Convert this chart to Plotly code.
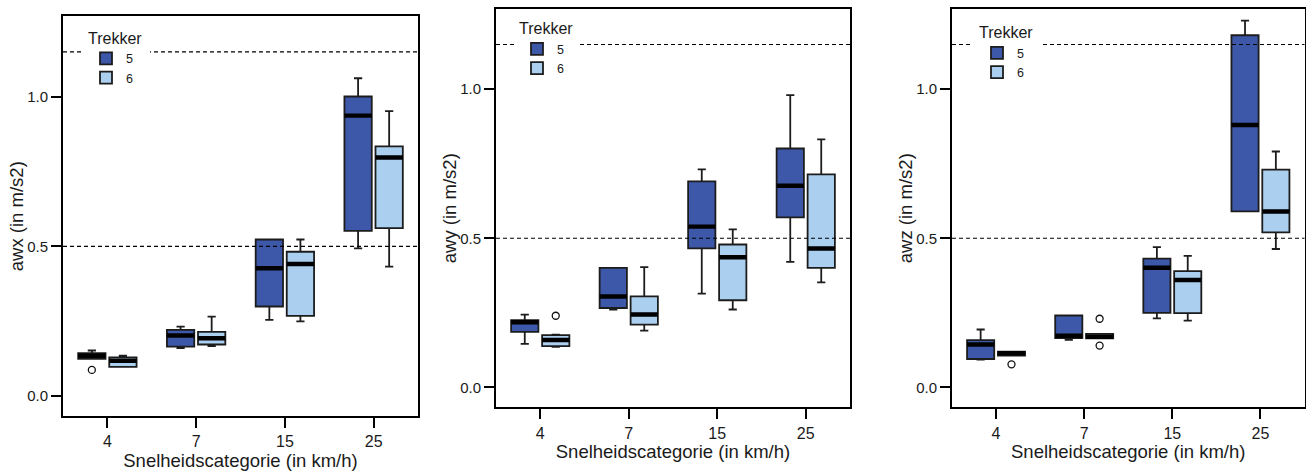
import plotly.graph_objects as go

# ---------------- data ----------------
categories = ['4', '7', '15', '25']
trekkers = ['5', '6']
thresholds = [0.5, 1.15]

# awx
awx_t5_lower = [0.124, 0.160, 0.254, 0.493]
awx_t5_q1 = [0.124, 0.165, 0.299, 0.552]
awx_t5_median = [0.134, 0.202, 0.427, 0.937]
awx_t5_q3 = [0.143, 0.221, 0.523, 1.001]
awx_t5_upper = [0.152, 0.232, 0.523, 1.062]
awx_t5_outliers = [[0.087], [], [], []]

awx_t6_lower = [0.097, 0.167, 0.249, 0.432]
awx_t6_q1 = [0.097, 0.172, 0.268, 0.561]
awx_t6_median = [0.118, 0.193, 0.441, 0.797]
awx_t6_q3 = [0.129, 0.214, 0.482, 0.834]
awx_t6_upper = [0.135, 0.265, 0.523, 0.952]
awx_t6_outliers = [[], [], [], []]

# awy
awy_t5_lower = [0.146, 0.261, 0.314, 0.421]
awy_t5_q1 = [0.186, 0.266, 0.466, 0.570]
awy_t5_median = [0.218, 0.305, 0.539, 0.676]
awy_t5_q3 = [0.225, 0.401, 0.691, 0.801]
awy_t5_upper = [0.244, 0.401, 0.731, 0.980]
awy_t5_outliers = [[], [], [], []]

awy_t6_lower = [0.136, 0.190, 0.261, 0.352]
awy_t6_q1 = [0.138, 0.210, 0.292, 0.401]
awy_t6_median = [0.159, 0.244, 0.436, 0.466]
awy_t6_q3 = [0.175, 0.305, 0.479, 0.714]
awy_t6_upper = [0.177, 0.403, 0.530, 0.832]
awy_t6_outliers = [[0.240], [], [], []]

# awz
awz_t5_lower = [0.093, 0.159, 0.231, 0.590]
awz_t5_q1 = [0.095, 0.165, 0.250, 0.590]
awz_t5_median = [0.144, 0.173, 0.401, 0.880]
awz_t5_q3 = [0.158, 0.241, 0.432, 1.181]
awz_t5_upper = [0.194, 0.241, 0.470, 1.230]
awz_t5_outliers = [[], [], [], []]

awz_t6_lower = [0.106, 0.164, 0.224, 0.464]
awz_t6_q1 = [0.106, 0.164, 0.249, 0.520]
awz_t6_median = [0.114, 0.170, 0.360, 0.590]
awz_t6_q3 = [0.120, 0.179, 0.390, 0.730]
awz_t6_upper = [0.120, 0.179, 0.441, 0.791]
awz_t6_outliers = [[0.077], [0.230, 0.140], [], []]

panels = [
    ('awx (in m/s2)', {
        '5': (awx_t5_lower, awx_t5_q1, awx_t5_median, awx_t5_q3, awx_t5_upper, awx_t5_outliers),
        '6': (awx_t6_lower, awx_t6_q1, awx_t6_median, awx_t6_q3, awx_t6_upper, awx_t6_outliers)}),
    ('awy (in m/s2)', {
        '5': (awy_t5_lower, awy_t5_q1, awy_t5_median, awy_t5_q3, awy_t5_upper, awy_t5_outliers),
        '6': (awy_t6_lower, awy_t6_q1, awy_t6_median, awy_t6_q3, awy_t6_upper, awy_t6_outliers)}),
    ('awz (in m/s2)', {
        '5': (awz_t5_lower, awz_t5_q1, awz_t5_median, awz_t5_q3, awz_t5_upper, awz_t5_outliers),
        '6': (awz_t6_lower, awz_t6_q1, awz_t6_median, awz_t6_q3, awz_t6_upper, awz_t6_outliers)}),
]
x_title = 'Snelheidscategorie (in km/h)'
legend_title = 'Trekker'


def pad_rows(rows):
    """Rectangular 2-D sample array (None = no sample) for plotly's precomputed boxes."""
    n = max(1, max(len(r) for r in rows))
    return [list(r) + [None] * (n - len(r)) for r in rows]


# ---------------- style ----------------
W, H = 1306, 475
FONT = 'Liberation Sans, Arial, Helvetica, sans-serif'
TXT = '#1a1a1a'
colors = {'5': '#3D57A9', '6': '#ABCFEE'}
OUTLINE = '#1c1c1c'
MEDIAN_HALF = 0.0075  # half thickness of the median bar (style)

x_px = [(63, 418), (496, 850), (952, 1304.5)]
y_px = [(16, 416), (8.7, 407.3), (8.7, 407.3)]
# legend: (left px, top px, white border px)
legend_px = [(81, 18, 5), (514, 10.5, 3), (970, 10.5, 7)]
ytitle_dx = 45.8
yrange = [-0.067, 1.27]

fig = go.Figure()

for p, (ytitle, series) in enumerate(panels):
    xa = 'x' if p == 0 else f'x{p + 1}'
    ya = 'y' if p == 0 else f'y{p + 1}'
    lg = 'legend' if p == 0 else f'legend{p + 1}'
    for t in trekkers:
        lower, q1, med, q3, upper, outl = series[t]
        fig.add_trace(go.Box(
            x=categories, y=pad_rows(outl),
            q1=q1, median=med, q3=q3, lowerfence=lower, upperfence=upper,
            name=t, legend=lg, showlegend=True,
            offsetgroup=t, xaxis=xa, yaxis=ya,
            fillcolor=colors[t],
            line=dict(color=OUTLINE, width=1.8),
            whiskerwidth=0.3,
            boxpoints='outliers', pointpos=0, jitter=0,
            marker=dict(symbol='circle-open', size=7, color='#111',
                        line=dict(width=1.3, color='#111')),
            hoverinfo='skip',
        ))
    for t in trekkers:
        lower, q1, med, q3, upper, outl = series[t]
        lo = [m - MEDIAN_HALF for m in med]
        hi = [m + MEDIAN_HALF for m in med]
        fig.add_trace(go.Box(
            x=categories, y=pad_rows([[] for _ in med]),
            q1=lo, median=med, q3=hi, lowerfence=lo, upperfence=hi,
            name=t, legend=lg, showlegend=False,
            offsetgroup=t, xaxis=xa, yaxis=ya,
            fillcolor='#000000',
            line=dict(color='#000000', width=0),
            whiskerwidth=0.3, boxpoints=False,
            hoverinfo='skip',
        ))

    xd = [x_px[p][0] / W, x_px[p][1] / W]
    yd = [(H - y_px[p][1]) / H, (H - y_px[p][0]) / H]
    axis_common = dict(showline=True, mirror=True, linecolor='#000', linewidth=2,
                       ticks='outside', ticklen=10, tickwidth=1.8, tickcolor='#000',
                       showgrid=False, zeroline=False)
    fig.update_layout(**{
        ('xaxis' if p == 0 else f'xaxis{p + 1}'): dict(
            domain=xd, anchor=ya, type='category', categoryorder='array',
            categoryarray=categories, range=[-0.5, 3.5],
            tickfont=dict(size=16, color=TXT, family=FONT),
            title=dict(text=x_title, standoff=4,
                       font=dict(size=18.5, color=TXT, family=FONT)),
            **axis_common),
        ('yaxis' if p == 0 else f'yaxis{p + 1}'): dict(
            domain=yd, anchor=xa, range=yrange,
            tickmode='array', tickvals=[0, 0.5, 1.0], tickformat='.1f',
            tickfont=dict(size=15, color=TXT, family=FONT),
            **axis_common),
    })
    # y-axis title
    fig.add_annotation(text=ytitle, textangle=-90, showarrow=False,
                       xref='paper', yref='paper',
                       x=(x_px[p][0] - ytitle_dx) / W, y=(yd[0] + yd[1]) / 2,
                       xanchor='center', yanchor='middle',
                       font=dict(size=18.5, color=TXT, family=FONT))
    for th in thresholds:
        fig.add_shape(type='line', xref=f'{xa} domain', yref=ya,
                      x0=0, x1=1, y0=th, y1=th,
                      line=dict(color='#000', width=1.2, dash='4px,3px'), layer='above')

    lx, ly, bw = legend_px[p]
    fig.update_layout(**{lg: dict(
        title=dict(text=legend_title, font=dict(size=16, color=TXT, family=FONT)),
        x=lx / W, y=(H - ly) / H, xanchor='left', yanchor='top',
        xref='paper', yref='paper',
        bgcolor='white', bordercolor='white', borderwidth=bw,
        font=dict(size=12.5, color=TXT, family=FONT),
        itemclick=False, itemdoubleclick=False,
        tracegroupgap=0,
    )})

fig.update_layout(
    width=W, height=H,
    margin=dict(l=0, r=0, t=0, b=0),
    paper_bgcolor='white', plot_bgcolor='white',
    boxmode='group', boxgap=0.3, boxgroupgap=0.12,
    font=dict(family=FONT, color=TXT),
    showlegend=True,
)

fig.write_html('out.html')
